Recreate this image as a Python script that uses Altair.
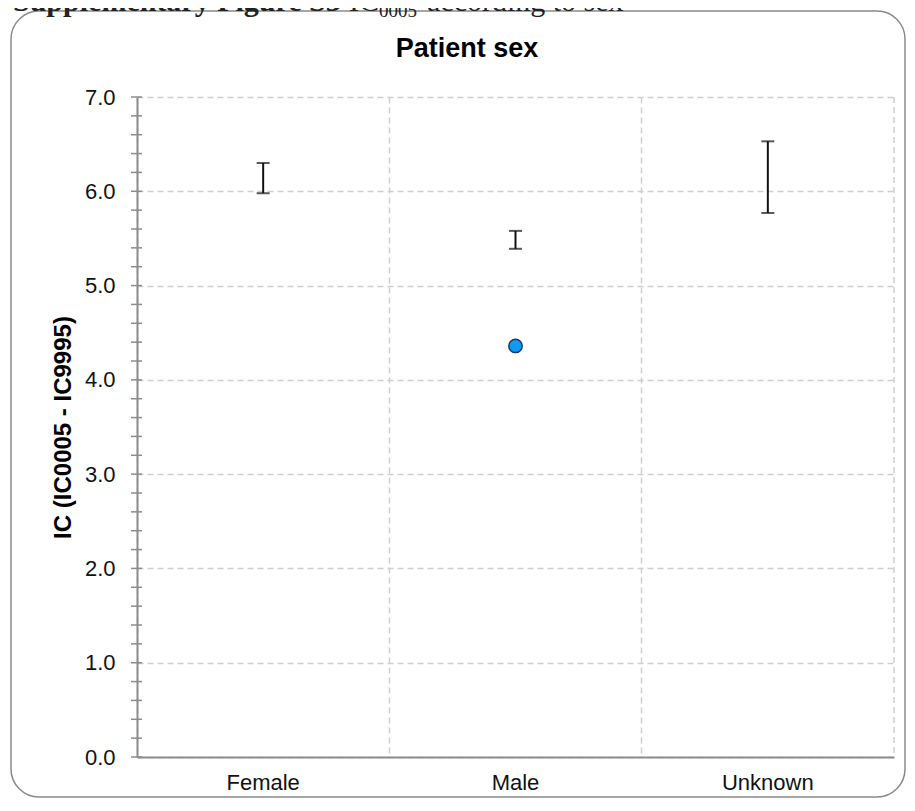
import altair as alt
import pandas as pd

# ---- data ----
categories = ["Female", "Male", "Unknown"]
ci_lower = [5.98, 5.39, 5.77]
ci_upper = [6.30, 5.58, 6.53]
point_category = ["Male"]
point_value = [4.36]
major_ticks = [0.0, 1.0, 2.0, 3.0, 4.0, 5.0, 6.0, 7.0]
minor_ticks = [round(i * 0.2, 1) for i in range(36)]

title_text = "Patient sex"
y_title = "IC (IC0005 - IC9995)"
caption_bold = "Supplementary Figure S3"
caption_ic = "IC"
caption_sub = "0005"
caption_rest = "according to sex"

W, H = 757, 660
FONT = "Liberation Sans"
GRID = "#cfcfcf"
AXIS = "#8c8c8c"

bars = pd.DataFrame({"sex": categories, "lower": ci_lower, "upper": ci_upper})
pts = pd.DataFrame({"sex": point_category, "value": point_value})
ticks = pd.DataFrame({"tick": minor_ticks})
one = pd.DataFrame({"k": [0]})

xscale = alt.Scale(domain=categories, paddingInner=0, paddingOuter=0)
yscale = alt.Scale(domain=[0, 7], nice=False)

x_axis = alt.Axis(title=None, ticks=False, tickSize=0, labelPadding=15,
                  labelFontSize=22, labelFont=FONT, labelColor="#111111",
                  domainColor=AXIS, domainWidth=2, grid=True, bandPosition=0,
                  gridColor=GRID, gridDash=[6, 4], gridWidth=1.5, labelAngle=0)
y_axis = alt.Axis(title=y_title, values=major_ticks, format=".1f", ticks=False,
                  tickSize=0, labelPadding=22, labelFontSize=22, labelFont=FONT,
                  labelColor="#111111", domainColor=AXIS, domainWidth=2,
                  grid=True, gridColor=GRID, gridDash=[6, 4], gridWidth=1.5,
                  titleFont=FONT, titleFontSize=24, titleFontWeight="bold",
                  titleColor="#000000", titlePadding=9)

X = alt.X("sex:N", scale=xscale, axis=x_axis, sort=categories)

err_line = alt.Chart(bars).mark_rule(color="#111111", strokeWidth=2).encode(
    x=X,
    y=alt.Y("lower:Q", scale=yscale, axis=y_axis),
    y2="upper:Q",
)
cap_low = alt.Chart(bars).mark_tick(color="#111111", size=13, thickness=2).encode(
    x=X, y=alt.Y("lower:Q", scale=yscale, axis=y_axis)
)
cap_high = alt.Chart(bars).mark_tick(color="#111111", size=13, thickness=2).encode(
    x=X, y=alt.Y("upper:Q", scale=yscale, axis=y_axis)
)
point = alt.Chart(pts).mark_circle(size=180, color="#0f9bf4", opacity=1,
                                   stroke="#1d3a66", strokeWidth=1.5).encode(
    x=X, y=alt.Y("value:Q", scale=yscale, axis=y_axis)
)
tick_marks = alt.Chart(ticks).mark_rule(color=AXIS, strokeWidth=1.5).encode(
    y=alt.Y("tick:Q", scale=yscale, axis=y_axis),
    x=alt.value(-6), x2=alt.value(5),
)
right_edge = alt.Chart(one).mark_rule(color=GRID, strokeWidth=1.5,
                                      strokeDash=[6, 4]).encode(
    x=alt.value(W), y=alt.value(0), y2=alt.value(H)
)
border = alt.Chart(one).mark_rect(fillOpacity=0, stroke="#8a8a8a", strokeWidth=1.5,
                                  cornerRadius=28).encode(
    x=alt.value(-126), x2=alt.value(768), y=alt.value(-86), y2=alt.value(700)
)
title = alt.Chart(pd.DataFrame({"t": [title_text]})).mark_text(
    font=FONT, fontSize=27, fontWeight="bold", color="#000000",
    align="center", baseline="alphabetic").encode(
    text="t:N", x=alt.value(330), y=alt.value(-40)
)
cap1 = alt.Chart(pd.DataFrame({"t": [caption_bold]})).mark_text(
    font="Liberation Serif", fontSize=30, fontWeight="bold", color="#222222",
    align="left", baseline="alphabetic").encode(
    text="t:N", x=alt.value(-124), y=alt.value(-86)
)
cap2 = alt.Chart(pd.DataFrame({"t": [caption_ic]})).mark_text(
    font="Liberation Serif", fontSize=30, color="#222222",
    align="left", baseline="alphabetic").encode(
    text="t:N", x=alt.value(212), y=alt.value(-86)
)
cap3 = alt.Chart(pd.DataFrame({"t": [caption_sub]})).mark_text(
    font="Liberation Serif", fontSize=19, color="#222222",
    align="left", baseline="alphabetic").encode(
    text="t:N", x=alt.value(242), y=alt.value(-80)
)
cap4 = alt.Chart(pd.DataFrame({"t": [caption_rest]})).mark_text(
    font="Liberation Serif", fontSize=30, color="#222222",
    align="left", baseline="alphabetic").encode(
    text="t:N", x=alt.value(290), y=alt.value(-86)
)

chart = alt.layer(
    err_line, cap_low, cap_high, point, tick_marks, right_edge, border,
    title, cap1, cap2, cap3, cap4
).properties(
    width=W, height=H,
    padding={"left": 129, "top": 89, "right": 13, "bottom": 41},
    autosize=alt.AutoSizeParams(type="none"),
).configure_view(stroke=None)

chart.save("out.html", embed_options={"renderer": "svg", "actions": False})
